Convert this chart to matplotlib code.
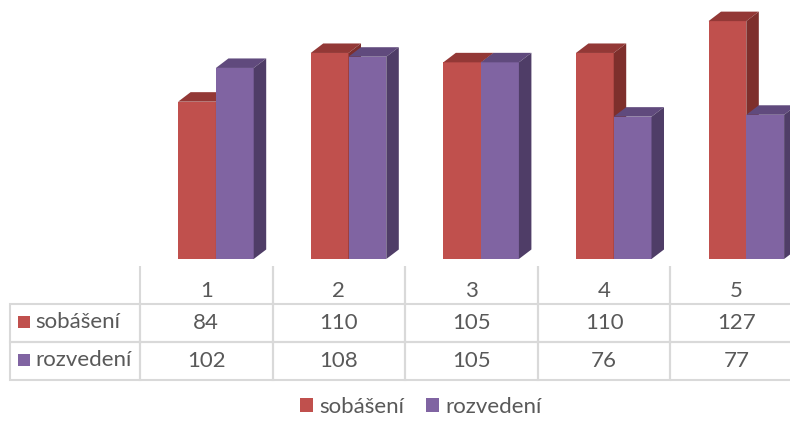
import matplotlib
matplotlib.use("Agg")
import matplotlib.pyplot as plt
from matplotlib.patches import Polygon, Rectangle, Patch
from matplotlib.transforms import blended_transform_factory

plt.rcParams['font.family'] = ['Lato', 'DejaVu Sans']

categories = ["1", "2", "3", "4", "5"]
series_names = ["sobášení", "rozvedení"]
sobaseni = [84, 110, 105, 110, 127]
rozvedeni = [102, 108, 105, 76, 77]

front_colors = ["#C0504D", "#8064A2"]
top_colors = ["#933836", "#604A7D"]
side_colors = ["#7E2F2C", "#4F3D67"]
text_color = "#595959"
grid_color = "#D9D9D9"
fs = 16

W, H = 790, 430
fig = plt.figure(figsize=(W / 100, H / 100), dpi=100)
ax_left_px, col_px, base_px = 140, 132.6, 259
ymax = 135
px_per_unit = 1.873
ax_h_px = ymax * px_per_unit
ax = fig.add_axes([ax_left_px / W, (H - base_px) / H, 5 * col_px / W, ax_h_px / H])
ax.set_xlim(-0.5, 4.5)
ax.set_ylim(0, ymax)
ax.set_axis_off()

bar_w = 0.285
offsets = [-0.07, 0.215]
dx = 12.5 / col_px
dy = 9.5 / px_per_unit

values = [sobaseni, rozvedeni]
for s, vals in enumerate(values):
    z = 2 + s
    xs = [i + offsets[s] for i in range(len(categories))]
    ax.bar(xs, vals, width=bar_w, color=front_colors[s], zorder=z, linewidth=0)
    for x, h in zip(xs, vals):
        x0, x1 = x - bar_w / 2, x + bar_w / 2
        top = Polygon([(x0, h), (x1, h), (x1 + dx, h + dy), (x0 + dx, h + dy)],
                      closed=True, facecolor=top_colors[s], edgecolor='none', zorder=z, clip_on=False)
        side = Polygon([(x1, 0), (x1 + dx, dy), (x1 + dx, h + dy), (x1, h)],
                       closed=True, facecolor=side_colors[s], edgecolor='none', zorder=z, clip_on=False)
        ax.add_patch(top)
        ax.add_patch(side)

# data table
ax_w_px = 5 * col_px
lab_w = 130 / ax_w_px
cell_text = [[""] * (len(categories) + 1),
             [""] + [str(v) for v in sobaseni],
             [""] + [str(v) for v in rozvedeni]]
tb_top = (base_px - 266) / ax_h_px
tb_bot = (base_px - 380) / ax_h_px
tbl = ax.table(cellText=cell_text,
               colWidths=[lab_w] + [1 / 5] * 5,
               cellLoc='center',
               bbox=[-lab_w, tb_bot, 1 + lab_w, tb_top - tb_bot])
tbl.auto_set_font_size(False)
tbl.set_fontsize(fs)
for (r, c), cell in tbl.get_celld().items():
    cell.set_edgecolor(grid_color)
    cell.set_linewidth(1.5)
    cell.get_text().set_color(text_color)
    if r == 0:
        cell.visible_edges = 'open' if c == 0 else 'LR'
    cell.set_facecolor('none')

# header (category labels)
trans = blended_transform_factory(ax.transData, ax.transAxes)
for i, cat in enumerate(categories):
    ax.text(i, (base_px - 291) / ax_h_px, cat, transform=trans, ha='center', va='center',
            fontsize=fs, color=text_color)

row_centers = [322, 360]
for s in range(2):
    yc = (base_px - row_centers[s]) / ax_h_px
    sq = 12
    ax.add_patch(Rectangle(((18 - ax_left_px) / ax_w_px, yc - sq / 2 / ax_h_px),
                           sq / ax_w_px, sq / ax_h_px, transform=ax.transAxes,
                           facecolor=front_colors[s], edgecolor='none', clip_on=False))
    ax.text((35 - ax_left_px) / ax_w_px, yc, series_names[s], transform=ax.transAxes,
            ha='left', va='center', fontsize=fs, color=text_color)

handles = [Patch(facecolor=front_colors[s], edgecolor='none') for s in range(2)]
fig.legend(handles, series_names, loc='center', bbox_to_anchor=(421 / W, 1 - 407 / H),
           ncol=2, frameon=False, fontsize=fs, labelcolor=text_color,
           handlelength=0.55, handleheight=0.55, handletextpad=0.3, columnspacing=1.0)

fig.savefig("out.png", dpi=100)
